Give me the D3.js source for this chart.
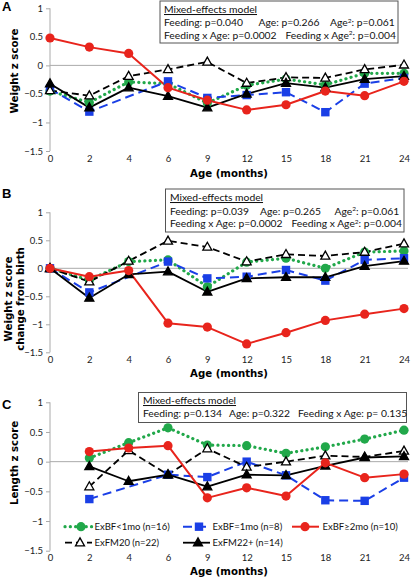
<!DOCTYPE html>
<html><head><meta charset="utf-8">
<script src="https://cdn.jsdelivr.net/npm/d3@7"></script>
<style>
body{margin:0;background:#fff;}
svg{display:block;}
</style></head>
<body>
<svg id="chart" width="415" height="578"></svg>
<script>
// ---------- DATA ----------
const ages = ["0","2","4","6","9","12","15","18","21","24"];
const yTicks = [1, 0.5, 0, -0.5, -1, -1.5];
const seriesNames = ["ExBF<1mo (n=16)","ExBF=1mo (n=8)","ExBF≥2mo (n=10)","ExFM20 (n=22)","ExFM22+ (n=14)"];

// Panel A: Weight z score
const aGreen = [-0.45,-0.65,-0.29,-0.32,-0.66,-0.35,-0.24,-0.34,-0.14,-0.14];
const aBlue  = [-0.41,-0.81,null,-0.28,-0.57,-0.52,-0.47,-0.82,-0.32,-0.22];
const aRed   = [0.48,0.32,0.21,-0.39,-0.61,-0.78,-0.69,-0.45,-0.53,-0.28];
const aOpen  = [-0.44,-0.53,-0.19,-0.07,0.06,-0.31,-0.21,-0.22,-0.07,0.01];
const aSolid = [-0.32,-0.74,-0.39,-0.54,-0.74,-0.50,-0.31,-0.39,-0.24,-0.19];

// Panel B: Weight z score change from birth
const bGreen = [0,-0.21,0.12,0.15,-0.33,0.11,0.18,0.00,0.29,0.31];
const bBlue  = [0,-0.43,null,0.12,-0.18,-0.15,-0.03,-0.22,0.15,0.18];
const bRed   = [0,-0.15,-0.04,-0.98,-1.05,-1.35,-1.15,-0.93,-0.82,-0.72];
const bOpen  = [0,-0.24,0.13,0.49,0.38,0.12,0.25,0.22,0.29,0.44];
const bSolid = [0,-0.53,-0.11,-0.06,-0.42,-0.18,-0.16,-0.16,0.04,0.13];

// Panel C: Length z score
const cGreen = [null,0.06,0.32,0.57,0.28,0.27,0.14,0.25,0.38,0.53];
const cBlue  = [null,-0.63,null,-0.22,-0.26,0.00,-0.23,-0.65,-0.66,-0.27];
const cRed   = [null,0.17,0.23,0.27,-0.61,-0.44,-0.58,-0.02,-0.27,-0.21];
const cOpen  = [null,-0.42,0.19,-0.22,0.22,-0.09,0.00,0.10,0.08,0.18];
const cSolid = [null,-0.08,-0.33,-0.22,-0.42,-0.22,-0.23,-0.07,0.07,0.09];

const statsA = [["Feeding: p=0.040","Age: p=0.266",["Age","2",": p=0.061"]],["Feeding x Age: p=0.0002",["Feeding x Age","2",": p=0.004"]]];
const statsB = [["Feeding: p=0.039","Age: p=0.265",["Age","2",": p=0.061"]],["Feeding x Age: p=0.0002",["Feeding x Age","2",": p=0.004"]]];
const statsC = [["Feeding: p=0.134","Age: p=0.322","Feeding x Age: p= 0.135"]];

// ---------- STYLES ----------
const styles = [
  {color:"#21a84a", dash:"0.1 5.2", cap:"round", width:3.2, marker:"circle", fill:"#21a84a"},
  {color:"#1a3fe6", dash:"9 5", cap:"butt", width:2, marker:"square", fill:"#1a3fe6"},
  {color:"#e8241c", dash:null, cap:"butt", width:2, marker:"circle", fill:"#e8241c"},
  {color:"#000000", dash:"7 4", cap:"butt", width:1.8, marker:"triangleOpen", fill:"#fff"},
  {color:"#000000", dash:null, cap:"butt", width:1.8, marker:"triangle", fill:"#000"}
];

const svg = d3.select("#chart");
const FONT = "Lato, 'Open Sans', sans-serif";
const BOLD = "'DejaVu Sans', Verdana, sans-serif";

const x = d3.scalePoint().domain(ages).range([50, 404]);

function marker(g, type, cx, cy, st, s) {
  s = s || 1;
  if (type === "circle") {
    g.append("circle").attr("cx", cx).attr("cy", cy).attr("r", 4.6*s).attr("fill", st.fill);
  } else if (type === "square") {
    g.append("rect").attr("x", cx-4.2*s).attr("y", cy-4.2*s).attr("width", 8.4*s).attr("height", 8.4*s).attr("fill", st.fill);
  } else {
    const h = 8*s, w = 9*s;
    g.append("path").attr("d", `M${cx},${cy-h*0.6}L${cx+w/2},${cy+h*0.4}L${cx-w/2},${cy+h*0.4}Z`)
      .attr("fill", st.fill).attr("stroke", "#000").attr("stroke-width", 1.3).attr("stroke-linejoin","miter");
  }
}

function panel(opts) {
  const y = d3.scaleLinear().domain([-1.5, 1]).range([opts.yBottom, opts.yTop]);
  const g = svg.append("g");

  // y axis
  const yAxis = d3.axisLeft(y).tickValues(yTicks).tickSize(4).tickPadding(3).tickFormat(d3.format("~g"));
  const ya = g.append("g").attr("transform", "translate(50,0)").call(yAxis);
  ya.select(".domain").attr("stroke", "#aaa").attr("d", `M-0,${opts.yBottom}V${opts.yTop}`);
  ya.selectAll(".tick line").attr("stroke", "#aaa");
  ya.selectAll(".tick text").attr("font-family", FONT).attr("font-size", 9.5).attr("fill", "#222");

  // zero line
  g.append("line").attr("x1", 50).attr("x2", 408).attr("y1", y(0)).attr("y2", y(0)).attr("stroke", "#aaa").attr("stroke-width", 1);

  // x axis labels (at bottom)
  const xAxis = d3.axisBottom(x).tickSize(0).tickPadding(4);
  const xa = g.append("g").attr("transform", `translate(0,${opts.yBottom})`).call(xAxis);
  xa.select(".domain").remove();
  xa.selectAll(".tick text").attr("font-family", FONT).attr("font-size", 9.5).attr("fill", "#222");

  g.append("text").attr("x", 229).attr("y", opts.xTitleY).attr("text-anchor", "middle")
    .attr("font-family", BOLD).attr("font-weight", "bold").attr("font-size", 10.2).text("Age (months)");

  // y title
  opts.yTitle.forEach((t, i) => {
    g.append("text").attr("transform", `translate(${opts.yTitleX[i]},${opts.yTitleCY}) rotate(-90)`)
      .attr("text-anchor", "middle").attr("font-family", BOLD).attr("font-weight", "bold").attr("font-size", 10.2).text(t);
  });

  // panel letter
  g.append("text").attr("x", 2).attr("y", opts.letterY).attr("font-family", "'Liberation Sans', Arial, sans-serif")
    .attr("font-weight", "bold").attr("font-size", 13).text(opts.letter);

  // series
  const line = d3.line().x(d => x(d.a)).y(d => y(d.v));
  const order = [0, 1, 3, 4, 2];
  order.forEach(i => {
    const st = styles[i];
    const pts = ages.map((a, k) => ({a, v: opts.data[i][k]})).filter(d => d.v !== null);
    g.append("path").datum(pts).attr("d", line).attr("fill", "none").attr("stroke", st.color)
      .attr("stroke-width", st.width).attr("stroke-dasharray", st.dash).attr("stroke-linecap", st.cap)
      .attr("stroke-linejoin", "round");
  });
  order.forEach(i => {
    const st = styles[i];
    const mg = g.append("g");
    ages.forEach((a, k) => {
      const v = opts.data[i][k];
      if (v !== null) marker(mg, st.marker, x(a), y(v), st);
    });
  });

  // stats box
  const b = opts.box;
  g.append("rect").attr("x", b.x).attr("y", b.y).attr("width", b.w).attr("height", b.h)
    .attr("fill", "#fff").attr("stroke", "#555").attr("stroke-width", 1);
  g.append("text").attr("x", b.tx).attr("y", b.line0).attr("font-family", FONT).attr("font-size", 10.3)
    .attr("text-decoration", "underline").attr("fill", "#111").text("Mixed-effects model");
  opts.stats.forEach((row, r) => {
    row.forEach((item, c) => {
      const t = g.append("text").attr("x", b.cols[r][c]).attr("y", b.lines[r])
        .attr("font-family", FONT).attr("font-size", 10.3).attr("fill", "#111");
      if (typeof item === "string") t.text(item);
      else {
        t.append("tspan").text(item[0]);
        t.append("tspan").attr("dy", -3.5).attr("font-size", 6.5).text(item[1]);
        t.append("tspan").attr("dy", 3.5).text(item[2]);
      }
    });
  });
}

panel({
  letter: "A", letterY: 11, yTop: 8.3, yBottom: 151, xTitleY: 177,
  yTitle: ["Weight z score"], yTitleX: [18], yTitleCY: 71,
  data: [aGreen, aBlue, aRed, aOpen, aSolid],
  box: {x: 160, y: 1, w: 238, h: 42, tx: 164, line0: 13, lines: [26, 38.5], cols: [[164, 258.5, 330], [164, 285.5]]},
  stats: statsA
});
panel({
  letter: "B", letterY: 198, yTop: 212.3, yBottom: 352.3, xTitleY: 377,
  yTitle: ["Weight z score", "change from birth"], yTitleX: [12, 24], yTitleCY: 299,
  data: [bGreen, bBlue, bRed, bOpen, bSolid],
  box: {x: 165.5, y: 189, w: 238.5, h: 43, tx: 170, line0: 201, lines: [214.5, 227], cols: [[170, 260, 334.5], [170, 291.5]]},
  stats: statsB
});
panel({
  letter: "C", letterY: 409, yTop: 402.3, yBottom: 550.7, xTitleY: 575,
  yTitle: ["Length z score"], yTitleX: [18], yTitleCY: 463,
  data: [cGreen, cBlue, cRed, cOpen, cSolid],
  box: {x: 138.5, y: 392.5, w: 268, h: 30, tx: 143, line0: 404, lines: [416.5], cols: [[143, 229, 298]]},
  stats: statsC
});

// legend
const legPos = [
  {lx: 65, mx: 81, tx: 94.5, y: 526.7},
  {lx: 183, mx: 199, tx: 212.5, y: 526.7},
  {lx: 292, mx: 305, tx: 322.5, y: 526.7},
  {lx: 65, mx: 80, tx: 94.5, y: 542.7},
  {lx: 183, mx: 198, tx: 212.5, y: 542.7}
];
const lg = svg.append("g");
seriesNames.forEach((name, i) => {
  const st = styles[i], p = legPos[i];
  lg.append("line").attr("x1", p.lx).attr("x2", p.lx + 27).attr("y1", p.y).attr("y2", p.y)
    .attr("stroke", st.color).attr("stroke-width", st.width).attr("stroke-dasharray", st.dash).attr("stroke-linecap", st.cap);
  marker(lg, st.marker, p.mx, p.y, st);
  lg.append("text").attr("x", p.tx).attr("y", p.y + 3.5).attr("font-family", FONT).attr("font-size", 9.5).attr("fill", "#111").text(name);
});
</script>
</body></html>
